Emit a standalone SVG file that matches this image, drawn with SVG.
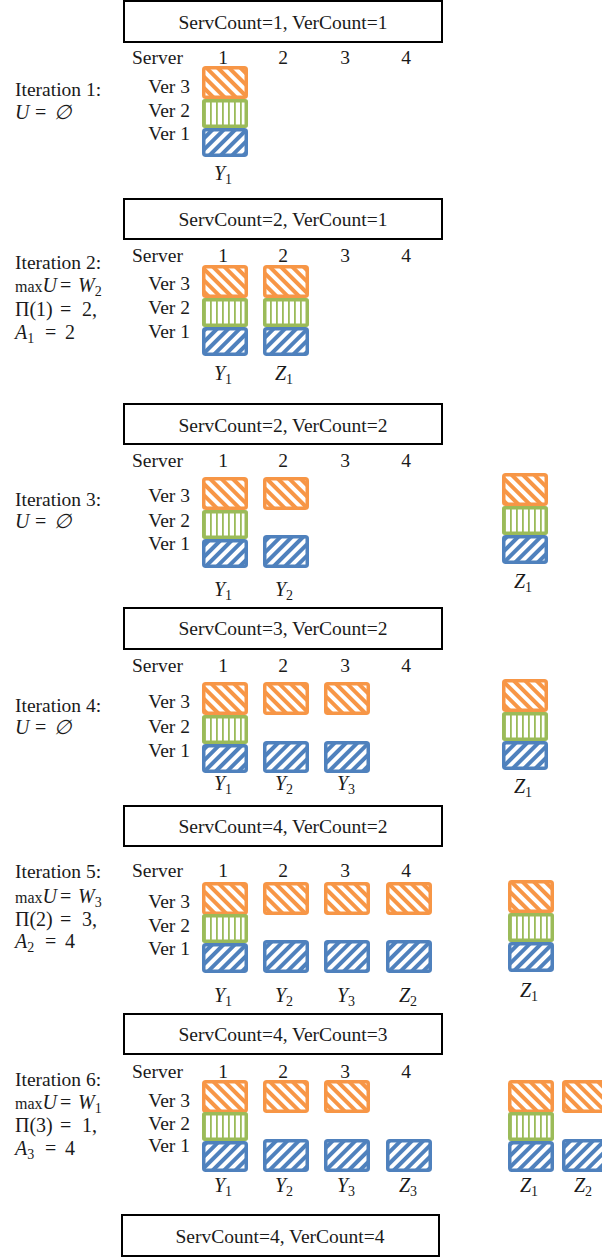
<svg xmlns="http://www.w3.org/2000/svg" width="602" height="1258" viewBox="0 0 602 1258">
<style>
.t{font-family:"Liberation Serif","Times New Roman",serif;font-size:19.5px;fill:#1a1a1a}
.m{font-family:"Liberation Serif","DejaVu Serif",serif;font-size:20px;fill:#1a1a1a}
.i{font-style:italic}
.v{text-anchor:end}
.c{text-anchor:middle}
.hb{fill:#fff;stroke:#000;stroke-width:2}
.o{fill:url(#pO);stroke:#F79646;stroke-width:3.5}
.g{fill:url(#pG);stroke:#9BBB59;stroke-width:3.5}
.b{fill:url(#pB);stroke:#4F81BD;stroke-width:3.5}
</style>
<defs>
<pattern id="pO" width="8" height="8" patternUnits="userSpaceOnUse" patternTransform="rotate(-45)"><rect width="8" height="8" fill="#fff"/><rect width="4" height="8" fill="#F79646"/></pattern>
<pattern id="pB" width="8" height="8" patternUnits="userSpaceOnUse" patternTransform="rotate(45)"><rect width="8" height="8" fill="#fff"/><rect width="4" height="8" fill="#4F81BD"/></pattern>
<pattern id="pG" width="6" height="6" patternUnits="userSpaceOnUse"><rect width="6" height="6" fill="#fff"/><rect width="1.8" height="6" fill="#9BBB59"/></pattern>
</defs>

<!-- Iteration 1 -->
<g id="iter1">
<rect class="hb" x="124" y="1" width="318" height="41"/>
<text class="t c" x="283" y="29">ServCount=1, VerCount=1</text>
<text class="t" x="132" y="64">Server</text>
<text class="t c" x="223" y="64">1</text><text class="t c" x="283" y="64">2</text><text class="t c" x="345" y="64">3</text><text class="t c" x="406" y="64">4</text>
<text class="t" x="15" y="96">Iteration 1:</text>
<text class="m" y="119"><tspan x="15" class="i">U</tspan><tspan x="35">=</tspan><tspan x="54" class="i">∅</tspan></text>
<text class="t v" x="190" y="93">Ver 3</text><text class="t v" x="190" y="117">Ver 2</text><text class="t v" x="190" y="140">Ver 1</text>
<rect class="o" x="203.75" y="67.75" width="42.5" height="29.5" rx="2"/>
<rect class="g" x="203.75" y="100.75" width="42.5" height="25.5" rx="1"/>
<rect class="b" x="203.75" y="129.75" width="42.5" height="25.5" rx="2"/>
<text class="m c" x="223" y="180"><tspan class="i">Y</tspan><tspan font-size="14" dy="4">1</tspan></text>
</g>

<!-- Iteration 2 -->
<g id="iter2">
<rect class="hb" x="124" y="199" width="318" height="40"/>
<text class="t c" x="283" y="226">ServCount=2, VerCount=1</text>
<text class="t" x="132" y="262">Server</text>
<text class="t c" x="223" y="262">1</text><text class="t c" x="283" y="262">2</text><text class="t c" x="345" y="262">3</text><text class="t c" x="406" y="262">4</text>
<text class="t" x="15" y="269">Iteration 2:</text>
<text class="m" x="15" y="292"><tspan font-size="16">max</tspan><tspan class="i">U</tspan><tspan x="60">=</tspan><tspan x="78" class="i">W</tspan><tspan font-size="14" dy="4">2</tspan></text>
<text class="m" y="316"><tspan x="15">Π(1)</tspan><tspan x="60">=</tspan><tspan x="82">2,</tspan></text>
<text class="m" y="339"><tspan x="15" class="i">A</tspan><tspan font-size="14" dy="4">1</tspan><tspan x="45" dy="-4">=</tspan><tspan x="65">2</tspan></text>
<text class="t v" x="190" y="290">Ver 3</text><text class="t v" x="190" y="314">Ver 2</text><text class="t v" x="190" y="338">Ver 1</text>
<rect class="o" x="203.75" y="266.75" width="42.5" height="29.5" rx="2"/>
<rect class="g" x="203.75" y="299.75" width="42.5" height="25.5" rx="1"/>
<rect class="b" x="203.75" y="328.75" width="42.5" height="25.5" rx="2"/>
<rect class="o" x="264.75" y="266.75" width="42.5" height="29.5" rx="2"/>
<rect class="g" x="264.75" y="299.75" width="42.5" height="25.5" rx="1"/>
<rect class="b" x="264.75" y="328.75" width="42.5" height="25.5" rx="2"/>
<text class="m c" x="223" y="380"><tspan class="i">Y</tspan><tspan font-size="14" dy="4">1</tspan></text>
<text class="m c" x="284" y="380"><tspan class="i">Z</tspan><tspan font-size="14" dy="4">1</tspan></text>
</g>

<!-- Iteration 3 -->
<g id="iter3">
<rect class="hb" x="124" y="404" width="318" height="40"/>
<text class="t c" x="283" y="432">ServCount=2, VerCount=2</text>
<text class="t" x="132" y="467">Server</text>
<text class="t c" x="223" y="467">1</text><text class="t c" x="283" y="467">2</text><text class="t c" x="345" y="467">3</text><text class="t c" x="406" y="467">4</text>
<text class="t" x="15" y="506">Iteration 3:</text>
<text class="m" y="528"><tspan x="15" class="i">U</tspan><tspan x="35">=</tspan><tspan x="54" class="i">∅</tspan></text>
<text class="t v" x="190" y="502">Ver 3</text><text class="t v" x="190" y="527">Ver 2</text><text class="t v" x="190" y="550">Ver 1</text>
<rect class="o" x="203.75" y="478.75" width="42.5" height="29.5" rx="2"/>
<rect class="g" x="203.75" y="511.75" width="42.5" height="25.5" rx="1"/>
<rect class="b" x="203.75" y="540.75" width="42.5" height="25.5" rx="2"/>
<rect class="o" x="264.75" y="478.75" width="42.5" height="29.5" rx="2"/>
<rect class="b" x="264.75" y="536.75" width="42.5" height="29.5" rx="2"/>
<rect class="o" x="503.75" y="474.75" width="42.5" height="29.5" rx="2"/>
<rect class="g" x="503.75" y="507.75" width="42.5" height="25.5" rx="1"/>
<rect class="b" x="503.75" y="536.75" width="42.5" height="25.5" rx="2"/>
<text class="m c" x="223" y="596"><tspan class="i">Y</tspan><tspan font-size="14" dy="4">1</tspan></text>
<text class="m c" x="284" y="596"><tspan class="i">Y</tspan><tspan font-size="14" dy="4">2</tspan></text>
<text class="m c" x="523" y="588"><tspan class="i">Z</tspan><tspan font-size="14" dy="4">1</tspan></text>
</g>

<!-- Iteration 4 -->
<g id="iter4">
<rect class="hb" x="124" y="608" width="318" height="41"/>
<text class="t c" x="283" y="635">ServCount=3, VerCount=2</text>
<text class="t" x="132" y="672">Server</text>
<text class="t c" x="223" y="672">1</text><text class="t c" x="283" y="672">2</text><text class="t c" x="345" y="672">3</text><text class="t c" x="406" y="672">4</text>
<text class="t" x="15" y="712">Iteration 4:</text>
<text class="m" y="734"><tspan x="15" class="i">U</tspan><tspan x="35">=</tspan><tspan x="54" class="i">∅</tspan></text>
<text class="t v" x="190" y="708">Ver 3</text><text class="t v" x="190" y="733">Ver 2</text><text class="t v" x="190" y="757">Ver 1</text>
<rect class="o" x="203.75" y="683.75" width="42.5" height="29.5" rx="2"/>
<rect class="g" x="203.75" y="716.75" width="42.5" height="25.5" rx="1"/>
<rect class="b" x="203.75" y="745.75" width="42.5" height="25.5" rx="2"/>
<rect class="o" x="264.75" y="683.75" width="42.5" height="29.5" rx="2"/>
<rect class="b" x="264.75" y="742.75" width="42.5" height="28.5" rx="2"/>
<rect class="o" x="325.75" y="683.75" width="42.5" height="29.5" rx="2"/>
<rect class="b" x="325.75" y="742.75" width="42.5" height="28.5" rx="2"/>
<rect class="o" x="503.75" y="680.75" width="42.5" height="29.5" rx="2"/>
<rect class="g" x="503.75" y="713.75" width="42.5" height="25.5" rx="1"/>
<rect class="b" x="503.75" y="742.75" width="42.5" height="25.5" rx="2"/>
<text class="m c" x="223" y="790"><tspan class="i">Y</tspan><tspan font-size="14" dy="4">1</tspan></text>
<text class="m c" x="284" y="790"><tspan class="i">Y</tspan><tspan font-size="14" dy="4">2</tspan></text>
<text class="m c" x="346" y="790"><tspan class="i">Y</tspan><tspan font-size="14" dy="4">3</tspan></text>
<text class="m c" x="523" y="793"><tspan class="i">Z</tspan><tspan font-size="14" dy="4">1</tspan></text>
</g>

<!-- Iteration 5 -->
<g id="iter5">
<rect class="hb" x="124" y="806" width="318" height="40"/>
<text class="t c" x="283" y="833">ServCount=4, VerCount=2</text>
<text class="t" x="132" y="877">Server</text>
<text class="t c" x="223" y="877">1</text><text class="t c" x="283" y="877">2</text><text class="t c" x="345" y="877">3</text><text class="t c" x="406" y="877">4</text>
<text class="t" x="15" y="878">Iteration 5:</text>
<text class="m" x="15" y="903"><tspan font-size="16">max</tspan><tspan class="i">U</tspan><tspan x="60">=</tspan><tspan x="78" class="i">W</tspan><tspan font-size="14" dy="4">3</tspan></text>
<text class="m" y="926"><tspan x="15">Π(2)</tspan><tspan x="60">=</tspan><tspan x="82">3,</tspan></text>
<text class="m" y="948"><tspan x="15" class="i">A</tspan><tspan font-size="14" dy="4">2</tspan><tspan x="45" dy="-4">=</tspan><tspan x="65">4</tspan></text>
<text class="t v" x="190" y="908">Ver 3</text><text class="t v" x="190" y="932">Ver 2</text><text class="t v" x="190" y="955">Ver 1</text>
<rect class="o" x="203.75" y="883.75" width="42.5" height="29.5" rx="2"/>
<rect class="g" x="203.75" y="915.75" width="42.5" height="25.5" rx="1"/>
<rect class="b" x="203.75" y="944.75" width="42.5" height="26.5" rx="2"/>
<rect class="o" x="264.75" y="883.75" width="42.5" height="29.5" rx="2"/>
<rect class="b" x="264.75" y="941.75" width="42.5" height="29.5" rx="2"/>
<rect class="o" x="325.75" y="883.75" width="42.5" height="29.5" rx="2"/>
<rect class="b" x="325.75" y="941.75" width="42.5" height="29.5" rx="2"/>
<rect class="o" x="387.75" y="883.75" width="42.5" height="29.5" rx="2"/>
<rect class="b" x="387.75" y="941.75" width="42.5" height="29.5" rx="2"/>
<rect class="o" x="509.75" y="881.75" width="42.5" height="29.5" rx="2"/>
<rect class="g" x="509.75" y="914.75" width="42.5" height="25.5" rx="1"/>
<rect class="b" x="509.75" y="943.75" width="42.5" height="26.5" rx="2"/>
<text class="m c" x="223" y="1002"><tspan class="i">Y</tspan><tspan font-size="14" dy="4">1</tspan></text>
<text class="m c" x="284" y="1002"><tspan class="i">Y</tspan><tspan font-size="14" dy="4">2</tspan></text>
<text class="m c" x="346" y="1002"><tspan class="i">Y</tspan><tspan font-size="14" dy="4">3</tspan></text>
<text class="m c" x="408" y="1002"><tspan class="i">Z</tspan><tspan font-size="14" dy="4">2</tspan></text>
<text class="m c" x="529" y="997"><tspan class="i">Z</tspan><tspan font-size="14" dy="4">1</tspan></text>
</g>

<!-- Iteration 6 -->
<g id="iter6">
<rect class="hb" x="124" y="1014" width="318" height="40"/>
<text class="t c" x="283" y="1041">ServCount=4, VerCount=3</text>
<text class="t" x="132" y="1078">Server</text>
<text class="t c" x="223" y="1078">1</text><text class="t c" x="283" y="1078">2</text><text class="t c" x="345" y="1078">3</text><text class="t c" x="406" y="1078">4</text>
<text class="t" x="15" y="1086">Iteration 6:</text>
<text class="m" x="15" y="1109"><tspan font-size="16">max</tspan><tspan class="i">U</tspan><tspan x="60">=</tspan><tspan x="78" class="i">W</tspan><tspan font-size="14" dy="4">1</tspan></text>
<text class="m" y="1132"><tspan x="15">Π(3)</tspan><tspan x="60">=</tspan><tspan x="82">1,</tspan></text>
<text class="m" y="1155"><tspan x="15" class="i">A</tspan><tspan font-size="14" dy="4">3</tspan><tspan x="45" dy="-4">=</tspan><tspan x="65">4</tspan></text>
<text class="t v" x="190" y="1107">Ver 3</text><text class="t v" x="190" y="1130">Ver 2</text><text class="t v" x="190" y="1152">Ver 1</text>
<rect class="o" x="203.75" y="1081.75" width="42.5" height="29.5" rx="2"/>
<rect class="g" x="203.75" y="1113.75" width="42.5" height="25.5" rx="1"/>
<rect class="b" x="203.75" y="1142.75" width="42.5" height="27.5" rx="2"/>
<rect class="o" x="264.75" y="1081.75" width="42.5" height="29.5" rx="2"/>
<rect class="b" x="264.75" y="1140.75" width="42.5" height="29.5" rx="2"/>
<rect class="o" x="325.75" y="1081.75" width="42.5" height="29.5" rx="2"/>
<rect class="b" x="325.75" y="1140.75" width="42.5" height="29.5" rx="2"/>
<rect class="b" x="387.75" y="1140.75" width="42.5" height="29.5" rx="2"/>
<rect class="o" x="509.75" y="1081.75" width="42.5" height="29.5" rx="2"/>
<rect class="g" x="509.75" y="1113.75" width="42.5" height="25.5" rx="1"/>
<rect class="b" x="509.75" y="1142.75" width="42.5" height="27.5" rx="2"/>
<rect class="o" x="563.75" y="1081.75" width="42.5" height="29.5" rx="2"/>
<rect class="b" x="563.75" y="1140.75" width="42.5" height="29.5" rx="2"/>
<text class="m c" x="223" y="1192"><tspan class="i">Y</tspan><tspan font-size="14" dy="4">1</tspan></text>
<text class="m c" x="284" y="1192"><tspan class="i">Y</tspan><tspan font-size="14" dy="4">2</tspan></text>
<text class="m c" x="346" y="1192"><tspan class="i">Y</tspan><tspan font-size="14" dy="4">3</tspan></text>
<text class="m c" x="408" y="1192"><tspan class="i">Z</tspan><tspan font-size="14" dy="4">3</tspan></text>
<text class="m c" x="529" y="1192"><tspan class="i">Z</tspan><tspan font-size="14" dy="4">1</tspan></text>
<text class="m c" x="583" y="1192"><tspan class="i">Z</tspan><tspan font-size="14" dy="4">2</tspan></text>
</g>

<!-- Final state -->
<g id="final">
<rect class="hb" x="122" y="1215" width="317" height="41"/>
<text class="t c" x="280" y="1243">ServCount=4, VerCount=4</text>
</g>

<g id="connectors"></g>
</svg>
